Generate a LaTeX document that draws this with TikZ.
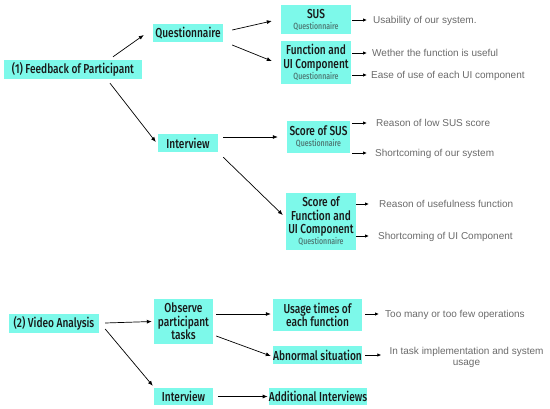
\documentclass[tikz,border=0pt]{standalone}
\usepackage{fontspec}
\setmainfont{Liberation Sans}
\newfontfamily\boxfont{Fira Sans Medium}[FakeStretch=0.78]
\usepackage{xcolor}
\usetikzlibrary{arrows.meta,positioning}

\definecolor{boxcyan}{HTML}{7DF9EA}
\definecolor{notegrey}{HTML}{6A6A6A}
\definecolor{subgrey}{HTML}{4F7C77}
\newcommand{\subq}{\\[-2.5pt]{\fontsize{9}{9.5}\selectfont\color{subgrey}Questionnaire}}

\tikzset{
  box/.style={fill=boxcyan,inner sep=0pt,align=center,text=black!90,
    font=\boxfont\fontsize{13}{13.5}\selectfont},
  note/.style={inner sep=0pt,anchor=west,text=notegrey,text height=7.2pt,text depth=0pt,
    font=\fontsize{10}{12}\selectfont},
  arr/.style={-{Latex[length=5pt,width=4pt]},line width=0.7pt},
  toarr/.style={-{Latex[length=4pt,width=3.5pt]},line width=1pt}
}

\begin{document}
\begin{tikzpicture}[x=1pt,y=-1pt]
\useasboundingbox (0,0) rectangle (550,408);

\node[box,minimum width=138pt,minimum height=19pt] (feedback) at (73,69.5) {(1) Feedback of Participant};
\node[box,minimum width=70pt,minimum height=18pt] (quest) at (188,33) {Questionnaire};
\node[box,minimum width=60pt,minimum height=18pt] (intA) at (188,143) {Interview};
\node[box,minimum width=70pt,minimum height=29pt] (sus) at (316,19.5) {SUS\subq};
\node[box,minimum width=70pt,minimum height=43pt] (func) at (316,62.5) {Function and\\UI Component\subq};
\node[box,minimum width=63pt,minimum height=32pt] (scoresus) at (318.5,137) {Score of SUS\subq};
\node[box,minimum width=70pt,minimum height=57pt] (scorefunc) at (321,221.5) {Score of\\Function and\\UI Component\subq};

\node[box,minimum width=90pt,minimum height=19pt] (video) at (54,323) {(2) Video Analysis};
\node[box,minimum width=59pt,minimum height=45pt] (observe) at (183.5,321.5) {Observe\\participant\\tasks};
\node[box,minimum width=59pt,minimum height=17pt] (intB) at (183.5,396.5) {Interview};
\node[box,minimum width=89pt,minimum height=32pt] (usage) at (317.5,315) {Usage times of\\each function};
\node[box,minimum width=89pt,minimum height=18pt] (abnormal) at (317.5,355) {Abnormal situation};
\node[box,minimum width=98pt,minimum height=17pt] (additional) at (318,396.5) {Additional Interviews};

\node[note] (usab) at (373,20) {Usability of our system.};
\node[note] (useful) at (372,53) {Wether the function is useful};
\node[note] (ease) at (371,75) {Ease of use of each UI component};
\node[note] (lowsus) at (376,123) {Reason of low SUS score};
\node[note] (shortsys) at (375,153) {Shortcoming of our system};
\node[note] (usefn) at (379,204) {Reason of usefulness function};
\node[note] (shortui) at (378,236) {Shortcoming of UI Component};
\node[note] (toomany) at (385,314) {Too many or too few operations};
\node[note,anchor=center,align=center,text height=,text depth=,font=\fontsize{10}{11.5}\selectfont] (tasksys) at (466.5,357.5) {In task implementation and system\\usage};

\draw[arr] ([xshift=40pt,yshift=3pt]feedback.north) -- ([xshift=-9pt,yshift=-2pt]quest.west);
\draw[arr] ([xshift=37pt,yshift=-4pt]feedback.south) -- ([xshift=-2pt,yshift=1pt]intA.west);
\draw[arr] ([xshift=9pt,yshift=3pt]quest.east) -- ([xshift=-9pt,yshift=-1.5pt]sus.west);
\draw[arr] ([xshift=9pt,yshift=-12pt]quest.east) -- ([xshift=-9pt,yshift=1.5pt]func.west);
\draw[arr] ([xshift=5pt,yshift=6pt]intA.east) -- ([xshift=-9pt]scoresus.west);
\draw[arr] ([xshift=5pt,yshift=-5pt]intA.south east) -- ([xshift=-3pt,yshift=6.5pt]scorefunc.west);

\draw[arr] ([xshift=6pt]video.east) -- ([xshift=-2pt]observe.west);
\draw[arr] ([xshift=6pt,yshift=-6pt]video.east) -- ([xshift=-1pt,yshift=2pt]intB.north west);
\draw[arr] ([xshift=3pt,yshift=7.5pt]observe.east) -- ([xshift=-2pt,yshift=1pt]usage.west);
\draw[arr] ([xshift=3pt,yshift=-14.5pt]observe.east) -- ([xshift=-2pt,yshift=-1pt]abnormal.west);
\draw[arr] ([xshift=5pt]intB.east) -- ([xshift=-1pt]additional.west);

\draw[toarr,shorten <=1pt,shorten >=6pt] (sus.east |- usab.west) -- (usab.west);
\draw[toarr,shorten <=1pt,shorten >=5pt] (func.east |- useful.west) -- (useful.west);
\draw[toarr,shorten <=1pt,shorten >=4pt] (func.east |- ease.west) -- (ease.west);
\draw[toarr,shorten <=2pt,shorten >=9pt] (scoresus.east |- lowsus.west) -- (lowsus.west);
\draw[toarr,shorten <=2pt,shorten >=8pt] (scoresus.east |- shortsys.west) -- (shortsys.west);
\draw[toarr,shorten >=10pt] (scorefunc.east |- usefn.west) -- (usefn.west);
\draw[toarr,shorten >=9pt] (scorefunc.east |- shortui.west) -- (shortui.west);
\draw[toarr,shorten <=3pt,shorten >=6pt] (usage.east |- toomany.west) -- (toomany.west);
\draw[toarr,shorten <=3pt,shorten >=8pt] (abnormal.east) -- (abnormal.east -| tasksys.west);
\end{tikzpicture}
\end{document}
